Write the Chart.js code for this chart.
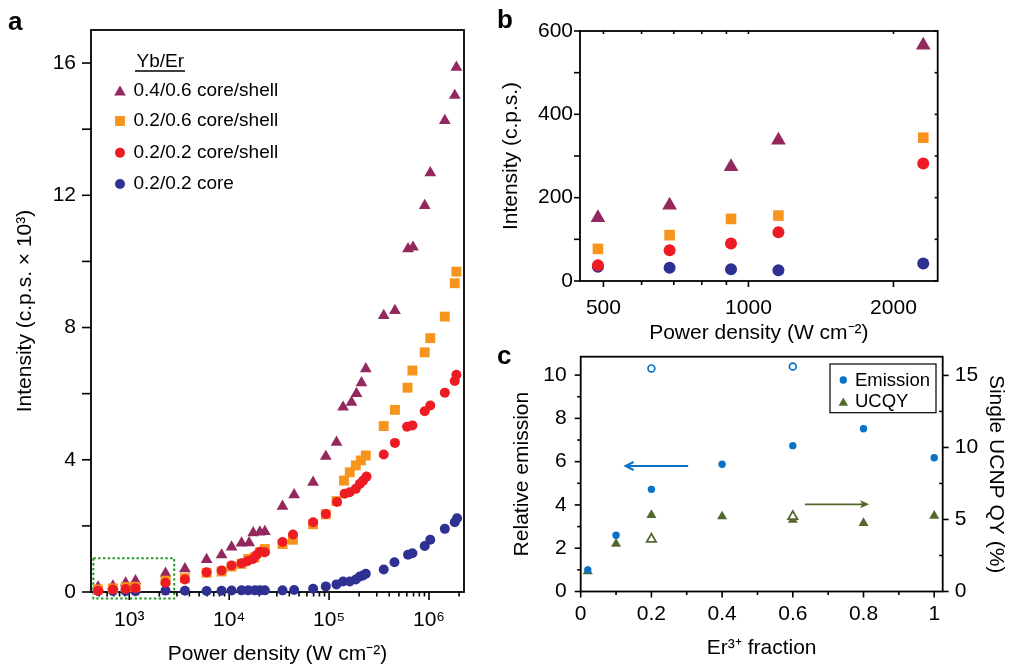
<!DOCTYPE html>
<html><head><meta charset="utf-8">
<script src="https://cdn.jsdelivr.net/npm/chart.js@4/dist/chart.umd.min.js"></script>
<style>
html,body{margin:0;padding:0;background:#fff;}
#wrap{position:relative;width:1012px;height:665px;overflow:hidden;font-family:"Liberation Sans",Arial,Helvetica,sans-serif;}
canvas{position:absolute;}
.plbl{position:absolute;font-weight:bold;font-size:26px;line-height:26px;color:#000;}
</style></head><body>
<div id="wrap">
<canvas id="ca" style="left:0;top:0;width:490px;height:665px" width="490" height="665"></canvas>
<canvas id="cb" style="left:490px;top:0;width:522px;height:345px" width="522" height="345"></canvas>
<canvas id="cc" style="left:490px;top:345px;width:522px;height:320px" width="522" height="320"></canvas>
<div class="plbl" style="left:8px;top:8px">a</div>
<div class="plbl" style="left:497px;top:6px">b</div>
<div class="plbl" style="left:497px;top:342px">c</div>
</div>
<script>
// ---------------- Panel a data ----------------
const aTriX = [487,686,920,1154,2306,3606,5943,8400,10570,13300,15850,17400,20280,22750,34200,44670,69180,92700,118600,138000,167500,188000,211000,233000,352000,456000,617000,692000,906000,1030000,1440000,1810000,1880000];
const aTriY = [0.152,0.182,0.274,0.338,0.566,0.70,0.98,1.12,1.36,1.48,1.49,1.79,1.81,1.83,2.59,2.94,3.32,4.10,4.53,5.59,5.74,6.00,6.33,6.75,8.36,8.51,10.38,10.43,11.69,12.68,14.26,15.02,15.87];
const aSqX = [487,686,920,1154,2306,3606,5943,8400,10570,13300,15500,18000,20300,22750,34200,43500,69180,92700,118600,141000,161000,185000,208000,233000,352000,456000,610000,682000,906000,1030000,1440000,1810000,1880000];
const aSqY = [0.077,0.110,0.149,0.157,0.344,0.42,0.58,0.62,0.77,0.85,1.0,1.05,1.2,1.3,1.45,1.58,2.05,2.35,2.75,3.37,3.62,3.83,3.98,4.13,5.02,5.51,6.18,6.70,7.25,7.68,8.33,9.34,9.69];
const aRedX = [487,686,920,1154,2306,3606,5943,8400,10570,13300,15200,17300,18800,20300,22800,34200,43500,69180,92700,120000,143000,161000,185000,203000,219000,237000,352000,456000,603000,682000,906000,1030000,1440000,1810000,1880000];
const aRedY = [0.038,0.074,0.090,0.117,0.282,0.38,0.60,0.65,0.80,0.87,0.93,1.0,1.12,1.22,1.2,1.51,1.74,2.11,2.36,2.72,2.97,3.02,3.12,3.27,3.37,3.49,4.16,4.51,5.0,5.04,5.47,5.64,6.03,6.38,6.57];
const aBlueX = [487,686,920,1154,2306,3606,5943,8395,10570,13300,15490,18070,20280,22750,34200,44670,69180,92700,118600,138000,161000,185000,203000,219000,233000,352000,451000,617000,682000,906000,1030000,1440000,1810000,1910000];
const aBlueY = [0.034,0.032,0.028,0.026,0.042,0.04,0.03,0.04,0.045,0.05,0.05,0.05,0.05,0.05,0.05,0.06,0.10,0.17,0.23,0.32,0.32,0.38,0.47,0.50,0.55,0.68,0.90,1.13,1.17,1.39,1.58,1.91,2.11,2.23];
const aSeriesNames = ['0.4/0.6 core/shell','0.2/0.6 core/shell','0.2/0.2 core/shell','0.2/0.2 core'];
const aLegendTitle = 'Yb/Er';
const aXMajor = [1e3,1e4,1e5,1e6];
const aXMajorLabels = ['10\u00B3','10\u2074','10\u2075','10\u2076'];
const aYMajor = [0,4,8,12,16];
const aYMinor = [2,6,10,14];
const aZoomBoxX = [437, 2818];
const aZoomBoxY = [-0.2, 1.02];

// ---------------- Panel b data ----------------
const bX = [487,686,920,1154,2306];
const bTri = [152,182,274,338,566];
const bSq = [77,110,149,157,344];
const bRed = [38,74,90,117,282];
const bBlue = [34,32,28,26,42];
const bXMajor = [500,1000,2000];
const bXMajorLabels = ['500','1000','2000'];
const bYMajor = [0,200,400,600];
const bYMinor = [100,300,500];

// ---------------- Panel c data ----------------
const cX = [0.02,0.1,0.2,0.4,0.6,0.8,1.0];
const cEmission = [1.0,2.6,4.72,5.88,6.74,7.52,6.18];
const cUCQY = [1.4,3.31,5.30,5.21,4.98,4.75,5.26];
const cOpenX = [0.2,0.6];
const cEmissionOpen = [10.31,10.40];
const cUCQYOpen = [3.63,5.21];
const cXMajor = [0,0.2,0.4,0.6,0.8,1.0];
const cXMajorLabels = ['0','0.2','0.4','0.6','0.8','1'];
const cXMinor = [0.1,0.3,0.5,0.7,0.9];
const cYMajor = [0,2,4,6,8,10];
const cYMinor = [1,3,5,7,9];
const cY2Major = [0,5,10,15];
const cY2Minor = [2.5,7.5,12.5];
const cBlueArrow = {x:[0.304,0.127], y:5.8};
const cGreenArrow = {x:[0.634,0.816], y:4.03};

// ---------------- helpers ----------------
const FONT = '"Liberation Sans", Arial, Helvetica, sans-serif';
Chart.defaults.font.family = FONT;
Chart.defaults.color = '#000';
const PURPLE='#93285f', ORANGE='#f7941d', RED='#ed1c24', NAVY='#2e3192', CBLUE='#0a72c6', CGREEN='#53682b';

function pts(xs, ys){ return xs.map((x,i)=>({x:x, y:ys[i]})); }
function ds(xs, ys, style, r, color, order, extra){
  return Object.assign({data: pts(xs,ys), pointStyle: style, pointRadius: r, pointHoverRadius: r,
    pointBackgroundColor: color, pointBorderColor: color, pointBorderWidth: 0, clip: false, order: order, showLine:false}, extra||{});
}
function logMinor(lo, hi, majors){
  const out=[];
  for(let e=Math.floor(Math.log10(lo)); e<=Math.ceil(Math.log10(hi)); e++){
    for(let k=1;k<10;k++){ const v=k*Math.pow(10,e); if(v>=lo && v<=hi && majors.indexOf(v)<0) out.push(v); }
  }
  return out;
}
function tickSet(list){ return function(s){ s.ticks = list.slice().sort((a,b)=>a-b).map(v=>({value:v})); }; }
function labelFrom(majors, labels){ return function(v){ const i=majors.findIndex(m=>Math.abs(m-v)<1e-9*Math.max(1,Math.abs(m))); return i>=0?labels[i]:''; }; }
function fixV(w){ return function(s){ s.width=w; s.paddingTop=0; s.paddingBottom=0; }; }
function fixH(h){ return function(s){ s.height=h; s.paddingLeft=0; s.paddingRight=0; }; }

function drawMarker(ctx, style, x, y, r, fill, stroke, lw){
  ctx.beginPath();
  if(style==='circle'){ ctx.arc(x,y,r,0,Math.PI*2); }
  else if(style==='triangle'){
    const a=2*Math.PI/3;
    ctx.moveTo(x, y-r);
    ctx.lineTo(x+Math.sin(a)*r, y-Math.cos(a)*r);
    ctx.lineTo(x-Math.sin(a)*r, y-Math.cos(a)*r);
    ctx.closePath();
  } else { const s=r*Math.SQRT1_2; ctx.rect(x-s,y-s,2*s,2*s); }
  ctx.fillStyle=fill; ctx.fill();
  if(lw>0){ ctx.lineWidth=lw; ctx.strokeStyle=stroke; ctx.stroke(); }
}

// specs: {scale, edge, major, majLen, minor, minLen}  (positive length = outward)
function axesPlugin(specs, frameW){
  return { id:'axesDeco', beforeDatasetsDraw(chart){
    const ctx=chart.ctx, ca=chart.chartArea;
    ctx.save();
    ctx.strokeStyle='#000'; ctx.lineWidth=frameW;
    ctx.strokeRect(ca.left, ca.top, ca.right-ca.left, ca.bottom-ca.top);
    ctx.lineWidth=1.6;
    for(const s of specs){
      const sc=chart.scales[s.scale];
      const groups=[[s.major||[], s.majLen],[s.minor||[], s.minLen]];
      for(const g of groups){
        for(const v of g[0]){
          const p=sc.getPixelForValue(v), len=g[1];
          ctx.beginPath();
          if(s.edge==='bottom'){ ctx.moveTo(p,ca.bottom); ctx.lineTo(p,ca.bottom+len); }
          else if(s.edge==='top'){ ctx.moveTo(p,ca.top); ctx.lineTo(p,ca.top-len); }
          else if(s.edge==='left'){ ctx.moveTo(ca.left,p); ctx.lineTo(ca.left-len,p); }
          else { ctx.moveTo(ca.right,p); ctx.lineTo(ca.right+len,p); }
          ctx.stroke();
        }
      }
    }
    ctx.restore();
  }};
}
const TICKFONT = {size:21, family:FONT};
const TITLEFONT = {size:21, family:FONT};
const baseOpts = {responsive:false, animation:false, devicePixelRatio:1, events:[],
  plugins:{legend:{display:false}, tooltip:{enabled:false}}};

// ---------------- Panel a ----------------
const aXMinor = logMinor(414, 2.24e6, aXMajor);
const legendA = { id:'legendA', afterDatasetsDraw(chart){
  const ctx=chart.ctx, ca=chart.chartArea;
  ctx.save();
  ctx.fillStyle='#000'; ctx.font='19px '+FONT; ctx.textBaseline='middle'; ctx.textAlign='left';
  const hx=ca.left+45.5, hy=ca.top+32;
  ctx.fillText(aLegendTitle, hx, hy);
  const w=ctx.measureText(aLegendTitle).width;
  ctx.beginPath(); ctx.lineWidth=1.3; ctx.strokeStyle='#000'; ctx.moveTo(hx-1.5,hy+9); ctx.lineTo(hx+w+1,hy+9); ctx.stroke();
  const styles=[['triangle',6.7,PURPLE],['rect',7,ORANGE],['circle',5,RED],['circle',5,NAVY]];
  const ys=[60.7,91,122.7,154];
  styles.forEach((st,i)=>{
    drawMarker(ctx, st[0], ca.left+29, ca.top+ys[i]+(st[0]==='triangle'?1.5:0), st[1], st[2], st[2], 0);
    ctx.fillStyle='#000';
    ctx.fillText(aSeriesNames[i], ca.left+42.5, ca.top+ys[i]);
  });
  ctx.restore();
}};
const zoomBoxA = { id:'zoomBoxA', beforeDatasetsDraw(chart){
  const ctx=chart.ctx, x=chart.scales.x, y=chart.scales.y;
  const x0=x.getPixelForValue(aZoomBoxX[0]), x1=x.getPixelForValue(aZoomBoxX[1]);
  const y0=y.getPixelForValue(aZoomBoxY[1]), y1=y.getPixelForValue(aZoomBoxY[0]);
  ctx.save(); ctx.setLineDash([2.4,2.4]); ctx.lineWidth=2; ctx.strokeStyle='#1e9a1e';
  ctx.strokeRect(x0,y0,x1-x0,y1-y0); ctx.restore();
}};
new Chart(document.getElementById('ca'), {
  type:'scatter',
  data:{datasets:[
    ds(aRedX, aRedY, 'circle', 5, RED, 1),
    ds(aSqX, aSqY, 'rect', 7, ORANGE, 2),
    ds(aTriX, aTriY, 'triangle', 6.8, PURPLE, 3),
    ds(aBlueX, aBlueY, 'circle', 5, NAVY, 4)
  ]},
  options:Object.assign({}, baseOpts, {
    layout:{padding:{left:0,right:26,top:30,bottom:0}},
    scales:{
      x:{type:'logarithmic', min:414, max:2.24e6, position:'bottom',
        afterBuildTicks: tickSet(aXMajor.concat(aXMinor)),
        afterFit: fixH(73),
        grid:{display:false, drawTicks:false}, border:{display:false},
        ticks:{autoSkip:false, maxRotation:0, minRotation:0, padding:16, font:TICKFONT, color:'#000', callback: labelFrom(aXMajor, aXMajorLabels)},
        title:{display:true, text:'Power density (W cm\u207B\u00B2)', font:{size:21, family:FONT, lineHeight:1}, color:'#000', padding:{top:0,bottom:0}}
      },
      y:{type:'linear', min:0, max:17, position:'left',
        afterBuildTicks: tickSet(aYMajor.concat(aYMinor)),
        afterFit: fixV(91),
        grid:{display:false, drawTicks:false}, border:{display:false},
        ticks:{autoSkip:false, padding:15, font:TICKFONT, color:'#000', callback: labelFrom(aYMajor, aYMajor.map(String))},
        title:{display:true, text:'Intensity (c.p.s. \u00D7 10\u00B3)', font:TITLEFONT, color:'#000', padding:{top:13,bottom:0}}
      }
    }
  }),
  plugins:[zoomBoxA, axesPlugin([
    {scale:'x', edge:'bottom', major:aXMajor, majLen:8, minor:aXMinor, minLen:4.5},
    {scale:'y', edge:'left', major:aYMajor, majLen:9, minor:aYMinor, minLen:9}
  ], 1.8), legendA]
});

// ---------------- Panel b ----------------
const bXMinor = logMinor(447, 2471, bXMajor).filter(v=>v>=100 && v%100===0 && v>400);
new Chart(document.getElementById('cb'), {
  type:'scatter',
  data:{datasets:[
    ds(bX, bRed, 'circle', 6, RED, 1),
    ds(bX, bSq, 'rect', 7.5, ORANGE, 2),
    ds(bX, bTri, 'triangle', 8.5, PURPLE, 3),
    ds(bX, bBlue, 'circle', 6, NAVY, 4)
  ]},
  options:Object.assign({}, baseOpts, {
    layout:{padding:{left:0,right:74.3,top:31,bottom:0}},
    scales:{
      x:{type:'logarithmic', min:447, max:2471, position:'bottom',
        afterBuildTicks: tickSet(bXMajor.concat(bXMinor)),
        afterFit: fixH(64),
        grid:{display:false, drawTicks:false}, border:{display:false},
        ticks:{autoSkip:false, maxRotation:0, minRotation:0, padding:15, font:TICKFONT, color:'#000', callback: labelFrom(bXMajor, bXMajorLabels)},
        title:{display:true, text:'Power density (W cm\u207B\u00B2)', font:{size:21, family:FONT, lineHeight:1.1}, color:'#000', padding:{top:0,bottom:0}}
      },
      y:{type:'linear', min:0, max:600, position:'left',
        afterBuildTicks: tickSet(bYMajor.concat(bYMinor)),
        afterFit: fixV(90),
        grid:{display:false, drawTicks:false}, border:{display:false},
        ticks:{autoSkip:false, padding:7, font:TICKFONT, color:'#000', callback: labelFrom(bYMajor, bYMajor.map(String))},
        title:{display:true, text:'Intensity (c.p.s.)', font:TITLEFONT, color:'#000', padding:{top:9,bottom:0}}
      }
    }
  }),
  plugins:[axesPlugin([
    {scale:'x', edge:'bottom', major:bXMajor, majLen:6, minor:bXMinor, minLen:4},
    {scale:'x', edge:'top', major:bXMajor, majLen:-3, minor:bXMinor, minLen:-3},
    {scale:'y', edge:'left', major:bYMajor, majLen:6, minor:bYMinor, minLen:6},
    {scale:'y', edge:'right', major:bYMajor, majLen:-3, minor:bYMinor, minLen:-3}
  ], 1.8)]
});

// ---------------- Panel c ----------------
const decoC = { id:'decoC', afterDatasetsDraw(chart){
  const ctx=chart.ctx, ca=chart.chartArea, x=chart.scales.x, y=chart.scales.y;
  ctx.save();
  let ax0=x.getPixelForValue(cBlueArrow.x[0]), ax1=x.getPixelForValue(cBlueArrow.x[1]), ay=y.getPixelForValue(cBlueArrow.y);
  ctx.strokeStyle=CBLUE; ctx.lineWidth=2;
  ctx.beginPath(); ctx.moveTo(ax0,ay); ctx.lineTo(ax1+1,ay); ctx.stroke();
  ctx.beginPath(); ctx.moveTo(ax1+8,ay-4); ctx.lineTo(ax1,ay); ctx.lineTo(ax1+8,ay+4); ctx.stroke();
  ax0=x.getPixelForValue(cGreenArrow.x[0]); ax1=x.getPixelForValue(cGreenArrow.x[1]); ay=y.getPixelForValue(cGreenArrow.y);
  ctx.strokeStyle=CGREEN; ctx.fillStyle=CGREEN; ctx.lineWidth=1.8;
  ctx.beginPath(); ctx.moveTo(ax0,ay); ctx.lineTo(ax1-4,ay); ctx.stroke();
  ctx.beginPath(); ctx.moveTo(ax1,ay); ctx.lineTo(ax1-9,ay-4); ctx.lineTo(ax1-7,ay); ctx.lineTo(ax1-9,ay+4); ctx.closePath(); ctx.fill();
  const bx1=ca.right-6.7, bx0=bx1-106, by0=ca.top+7.3, by1=by0+48.7;
  ctx.fillStyle='#fff'; ctx.fillRect(bx0,by0,bx1-bx0,by1-by0);
  ctx.strokeStyle='#000'; ctx.lineWidth=1.2; ctx.strokeRect(bx0,by0,bx1-bx0,by1-by0);
  drawMarker(ctx,'circle',bx0+13.3,by0+16,3.7,CBLUE,CBLUE,0);
  drawMarker(ctx,'triangle',bx0+13.3,by0+39,5.5,CGREEN,CGREEN,0);
  ctx.fillStyle='#000'; ctx.font='18.5px '+FONT; ctx.textAlign='left'; ctx.textBaseline='middle';
  ctx.fillText('Emission', bx0+25, by0+16.5);
  ctx.fillText('UCQY', bx0+25, by0+38);
  ctx.restore();
}};
new Chart(document.getElementById('cc'), {
  type:'scatter',
  data:{datasets:[
    ds(cX, cEmission, 'circle', 3.7, CBLUE, 1, {yAxisID:'y'}),
    ds(cOpenX, cEmissionOpen, 'circle', 3.4, CBLUE, 2, {yAxisID:'y', pointBackgroundColor:'#fff', pointBorderWidth:1.7}),
    ds(cOpenX, cUCQYOpen, 'triangle', 5.5, CGREEN, 3, {yAxisID:'y2', pointBackgroundColor:'#fff', pointBorderWidth:1.7}),
    ds(cX, cUCQY, 'triangle', 5.8, CGREEN, 4, {yAxisID:'y2'})
  ]},
  options:Object.assign({}, baseOpts, {
    layout:{padding:{left:0,right:0,top:11.7,bottom:0}},
    scales:{
      x:{type:'linear', min:0, max:1.024, position:'bottom',
        afterBuildTicks: tickSet(cXMajor.concat(cXMinor)),
        afterFit: fixH(73.5),
        grid:{display:false, drawTicks:false}, border:{display:false},
        ticks:{autoSkip:false, maxRotation:0, minRotation:0, padding:10, font:TICKFONT, color:'#000', callback: labelFrom(cXMajor, cXMajorLabels)},
        title:{display:true, text:'Er\u00B3\u207A fraction', font:TITLEFONT, color:'#000', padding:{top:0,bottom:4}}
      },
      y:{type:'linear', min:0, max:10.85, position:'left',
        afterBuildTicks: tickSet(cYMajor.concat(cYMinor)),
        afterFit: fixV(90.7),
        grid:{display:false, drawTicks:false}, border:{display:false},
        ticks:{autoSkip:false, padding:14, font:TICKFONT, color:'#000', callback: labelFrom(cYMajor, cYMajor.map(String))},
        title:{display:true, text:'Relative emission', font:TITLEFONT, color:'#000', padding:{top:20,bottom:0}}
      },
      y2:{type:'linear', min:0, max:16.3, position:'right',
        afterBuildTicks: tickSet(cY2Major.concat(cY2Minor)),
        afterFit: fixV(69.3),
        grid:{display:false, drawTicks:false}, border:{display:false},
        ticks:{autoSkip:false, padding:12, font:TICKFONT, color:'#000', callback: labelFrom(cY2Major, cY2Major.map(String))},
        title:{display:true, text:'Single UCNP QY (%)', font:TITLEFONT, color:'#000', padding:{top:3.4,bottom:0}}
      }
    }
  }),
  plugins:[axesPlugin([
    {scale:'x', edge:'bottom', major:cXMajor, majLen:6, minor:cXMinor, minLen:3.5},
    {scale:'y', edge:'left', major:cYMajor, majLen:6, minor:cYMinor, minLen:3.5},
    {scale:'y2', edge:'right', major:cY2Major, majLen:6, minor:cY2Minor, minLen:-3.5}
  ], 1.8), decoC]
});
</script>
</body></html>
